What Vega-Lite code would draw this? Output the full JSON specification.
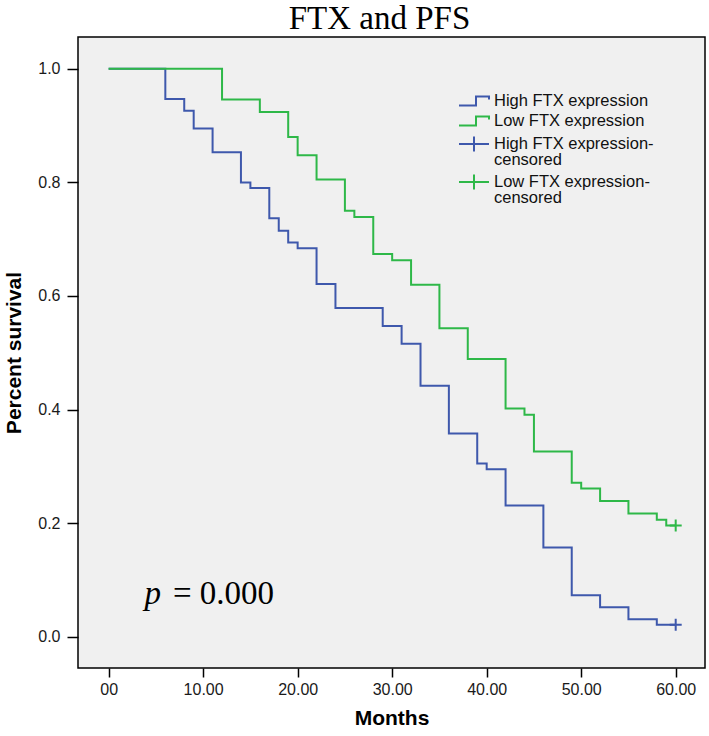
{
  "$schema": "https://vega.github.io/schema/vega-lite/v6.json",
  "autosize": "none",
  "width": 627,
  "height": 631,
  "padding": {"left": 78, "top": 37, "right": 4, "bottom": 68},
  "background": "#ffffff",
  "config": {
    "view": {"fill": "#f0f0f0", "stroke": "#000000", "strokeWidth": 1.5},
    "axis": {"grid": false, "domain": false, "tickColor": "#000000", "tickWidth": 1.5, "labelFont": "Liberation Sans", "labelFontSize": 16, "labelColor": "#1a1a1a", "titleFont": "Liberation Sans", "titleFontWeight": "bold", "titleFontSize": 21, "titleColor": "#000000"}
  },
  "title": {"text": "FTX and PFS", "font": "Liberation Serif", "fontSize": 33, "fontWeight": "normal", "color": "#000000", "anchor": "middle", "frame": "group", "dx": -12, "offset": -24.5, "baseline": "alphabetic"},
  "datasets": {
    "curves": [
      {"group": "High FTX expression", "month": 0, "surv": 1.0},
      {"group": "High FTX expression", "month": 6, "surv": 0.947},
      {"group": "High FTX expression", "month": 8, "surv": 0.926},
      {"group": "High FTX expression", "month": 9, "surv": 0.895},
      {"group": "High FTX expression", "month": 11, "surv": 0.853},
      {"group": "High FTX expression", "month": 14, "surv": 0.800},
      {"group": "High FTX expression", "month": 15, "surv": 0.790},
      {"group": "High FTX expression", "month": 17, "surv": 0.737},
      {"group": "High FTX expression", "month": 18, "surv": 0.715},
      {"group": "High FTX expression", "month": 19, "surv": 0.694},
      {"group": "High FTX expression", "month": 20, "surv": 0.684},
      {"group": "High FTX expression", "month": 22, "surv": 0.621},
      {"group": "High FTX expression", "month": 24, "surv": 0.579},
      {"group": "High FTX expression", "month": 29, "surv": 0.547},
      {"group": "High FTX expression", "month": 31, "surv": 0.516},
      {"group": "High FTX expression", "month": 33, "surv": 0.442},
      {"group": "High FTX expression", "month": 36, "surv": 0.358},
      {"group": "High FTX expression", "month": 39, "surv": 0.305},
      {"group": "High FTX expression", "month": 40, "surv": 0.295},
      {"group": "High FTX expression", "month": 42, "surv": 0.231},
      {"group": "High FTX expression", "month": 46, "surv": 0.157},
      {"group": "High FTX expression", "month": 49, "surv": 0.073},
      {"group": "High FTX expression", "month": 52, "surv": 0.052},
      {"group": "High FTX expression", "month": 55, "surv": 0.031},
      {"group": "High FTX expression", "month": 58, "surv": 0.021},
      {"group": "High FTX expression", "month": 60, "surv": 0.021},
      {"group": "Low FTX expression", "month": 0, "surv": 1.0},
      {"group": "Low FTX expression", "month": 12, "surv": 0.946},
      {"group": "Low FTX expression", "month": 16, "surv": 0.924},
      {"group": "Low FTX expression", "month": 19, "surv": 0.880},
      {"group": "Low FTX expression", "month": 20, "surv": 0.848},
      {"group": "Low FTX expression", "month": 22, "surv": 0.805},
      {"group": "Low FTX expression", "month": 25, "surv": 0.750},
      {"group": "Low FTX expression", "month": 26, "surv": 0.739},
      {"group": "Low FTX expression", "month": 28, "surv": 0.674},
      {"group": "Low FTX expression", "month": 30, "surv": 0.663},
      {"group": "Low FTX expression", "month": 32, "surv": 0.620},
      {"group": "Low FTX expression", "month": 35, "surv": 0.543},
      {"group": "Low FTX expression", "month": 38, "surv": 0.489},
      {"group": "Low FTX expression", "month": 42, "surv": 0.402},
      {"group": "Low FTX expression", "month": 44, "surv": 0.391},
      {"group": "Low FTX expression", "month": 45, "surv": 0.326},
      {"group": "Low FTX expression", "month": 49, "surv": 0.271},
      {"group": "Low FTX expression", "month": 50, "surv": 0.261},
      {"group": "Low FTX expression", "month": 52, "surv": 0.239},
      {"group": "Low FTX expression", "month": 55, "surv": 0.217},
      {"group": "Low FTX expression", "month": 58, "surv": 0.206},
      {"group": "Low FTX expression", "month": 59, "surv": 0.196},
      {"group": "Low FTX expression", "month": 60, "surv": 0.196}
    ],
    "censor": [
      {"group": "High FTX expression-censored", "month": 60, "surv": 0.021},
      {"group": "Low FTX expression-censored", "month": 60, "surv": 0.196}
    ],
    "notes": [
      {"t": "p", "month": 3.8, "surv": 0.058, "style": "italic"},
      {"t": "= 0.000", "month": 6.8, "surv": 0.058, "style": "normal"}
    ]
  },
  "layer": [
    {"data": {"name": "curves"}, "transform": [{"filter": "datum.group == 'High FTX expression'"}],
     "mark": {"type": "line", "interpolate": "step-after", "strokeWidth": 2},
     "encoding": {
      "x": {"field": "month", "type": "quantitative", "scale": {"domain": [-3.24, 63.1], "nice": false, "zero": false},
        "axis": {"values": [0, 10, 20, 30, 40, 50, 60], "tickSize": 9, "labelPadding": 4, "labelExpr": "datum.value == 0 ? '00' : format(datum.value, '.2f')", "title": "Months", "titlePadding": 10}},
      "y": {"field": "surv", "type": "quantitative", "scale": {"domain": [-0.055, 1.056], "nice": false, "zero": false},
        "axis": {"values": [0, 0.2, 0.4, 0.6, 0.8, 1.0], "tickSize": 11, "labelPadding": 7, "format": ".1f", "title": "Percent survival", "titlePadding": 13}},
      "color": {"field": "group", "type": "nominal",
        "scale": {"domain": ["High FTX expression", "Low FTX expression", "High FTX expression-censored", "Low FTX expression-censored"], "range": ["#3e58ac", "#2eb848", "#3e58ac", "#2eb848"]},
        "legend": {"title": null, "orient": "none", "legendX": 387, "legendY": 55, "padding": 0,
          "symbolSize": 256, "symbolStrokeWidth": 2, "labelOffset": 11, "rowPadding": 2,
          "labelFont": "Liberation Sans", "labelFontSize": 16.5, "labelColor": "#111111", "labelLimit": 300,
          "labelExpr": "indexof(datum.value, 'censored') >= 0 ? [replace(datum.value, 'censored', ''), 'censored'] : datum.value",
          "encode": {
            "symbols": {"update": {
              "shape": {"signal": "indexof(datum.value, 'censored') < 0 ? 'M-1.875,0.56H0.25V-0.56H1.875V-0.2' : 'M-1.875,0H1.875M0,-0.94V0.94'"},
              "fill": {"value": "transparent"},
              "stroke": {"scale": "color", "field": "value"},
              "strokeWidth": {"value": 2}}},
            "labels": {"update": {"lineHeight": {"value": 15.5}}}
          }}}
     }},
    {"data": {"name": "curves"}, "transform": [{"filter": "datum.group == 'Low FTX expression'"}],
     "mark": {"type": "line", "interpolate": "step-after", "strokeWidth": 2},
     "encoding": {
      "x": {"field": "month", "type": "quantitative"},
      "y": {"field": "surv", "type": "quantitative"},
      "color": {"field": "group", "type": "nominal"}
     }},
    {"data": {"name": "censor"},
     "mark": {"type": "point", "shape": "M-1,0H1M0,-1V1", "filled": false, "size": 144, "strokeWidth": 2, "opacity": 1},
     "encoding": {
      "x": {"field": "month", "type": "quantitative"},
      "y": {"field": "surv", "type": "quantitative"},
      "color": {"field": "group", "type": "nominal"}
     }},
    {"data": {"name": "notes"}, "transform": [{"filter": "datum.style == 'italic'"}],
     "mark": {"type": "text", "font": "Liberation Serif", "fontSize": 33, "fontStyle": "italic", "align": "left", "baseline": "alphabetic", "fill": "#000000"},
     "encoding": {
      "x": {"field": "month", "type": "quantitative"},
      "y": {"field": "surv", "type": "quantitative"},
      "text": {"field": "t", "type": "nominal"}
     }},
    {"data": {"name": "notes"}, "transform": [{"filter": "datum.style == 'normal'"}],
     "mark": {"type": "text", "font": "Liberation Serif", "fontSize": 33, "fontStyle": "normal", "align": "left", "baseline": "alphabetic", "fill": "#000000"},
     "encoding": {
      "x": {"field": "month", "type": "quantitative"},
      "y": {"field": "surv", "type": "quantitative"},
      "text": {"field": "t", "type": "nominal"}
     }}
  ]
}
